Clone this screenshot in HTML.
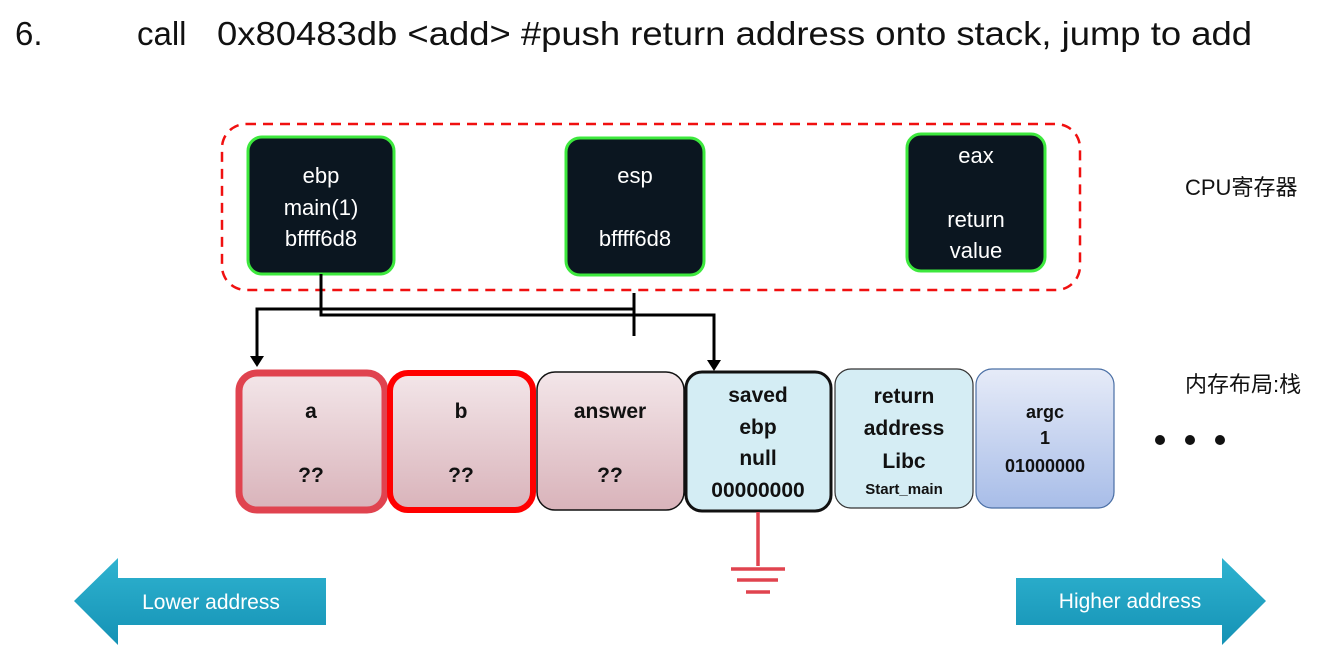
<!DOCTYPE html>
<html><head><meta charset="utf-8"><style>
body{margin:0;background:#fff;width:1334px;height:654px;overflow:hidden}
svg{display:block}
text{font-family:"Liberation Sans","Noto Sans CJK SC",sans-serif}
</style></head><body>
<svg width="1334" height="654" viewBox="0 0 1334 654" xmlns="http://www.w3.org/2000/svg">
<defs>
<linearGradient id="pk" x1="0" y1="0" x2="0" y2="1"><stop offset="0" stop-color="#f3e6e9"/><stop offset="1" stop-color="#d9b3ba"/></linearGradient>
<linearGradient id="bl" x1="0" y1="0" x2="0" y2="1"><stop offset="0" stop-color="#e6ebf8"/><stop offset="1" stop-color="#a8bde8"/></linearGradient>
<linearGradient id="ar" x1="0" y1="0" x2="0" y2="1"><stop offset="0" stop-color="#2fb3d0"/><stop offset="1" stop-color="#1592b5"/></linearGradient>
</defs>
<text x="15" y="45" font-size="33" fill="#111">6.</text>
<text x="137" y="45" font-size="33" fill="#111">call</text>
<text x="217" y="45" font-size="33" fill="#111" textLength="1035" lengthAdjust="spacingAndGlyphs">0x80483db &lt;add&gt; #push return address onto stack, jump to add</text>

<rect x="222" y="124" width="858" height="166" rx="24" fill="none" stroke="#f01010" stroke-width="2.5" stroke-dasharray="10 7"/>

<g stroke="#3de83d" stroke-width="3" fill="#0b1620">
<rect x="248" y="137" width="146" height="137" rx="14"/>
<rect x="566" y="138" width="138" height="137" rx="14"/>
<rect x="907" y="134" width="138" height="137" rx="14"/>
</g>
<g fill="#fff" font-size="22" text-anchor="middle">
<text x="321" y="183">ebp</text><text x="321" y="215">main(1)</text><text x="321" y="246">bffff6d8</text>
<text x="635" y="183">esp</text><text x="635" y="246">bffff6d8</text>
<text x="976" y="163">eax</text><text x="976" y="227">return</text><text x="976" y="258">value</text>
</g>
<text x="1185" y="195" font-size="22" fill="#111">CPU寄存器</text>
<text x="1185" y="392" font-size="22" fill="#111">内存布局:栈</text>

<g stroke="#000" stroke-width="3" fill="none">
<polyline points="321,274 321,315 714,315 714,362"/>
<polyline points="634,293 634,336"/>
<polyline points="634,309 257,309 257,358"/>
</g>
<polygon points="250,356 264,356 257,367" fill="#000"/>
<polygon points="707,360 721,360 714,371" fill="#000"/>

<rect x="239" y="373" width="146" height="137" rx="18" fill="url(#pk)" stroke="#e0434f" stroke-width="7"/>
<rect x="390" y="373" width="143" height="137" rx="18" fill="url(#pk)" stroke="#ff0000" stroke-width="6"/>
<rect x="537" y="372" width="147" height="138" rx="18" fill="url(#pk)" stroke="#111" stroke-width="1.5"/>
<rect x="686" y="372" width="145" height="139" rx="16" fill="#d4edf4" stroke="#111" stroke-width="3"/>
<rect x="835" y="369" width="138" height="139" rx="16" fill="#d5edf4" stroke="#333" stroke-width="1.2"/>
<rect x="976" y="369" width="138" height="139" rx="16" fill="url(#bl)" stroke="#4a6fa5" stroke-width="1.2"/>

<g font-size="21" font-weight="bold" fill="#111" text-anchor="middle">
<text x="311" y="418">a</text><text x="311" y="482">??</text>
<text x="461" y="418">b</text><text x="461" y="482">??</text>
<text x="610" y="418">answer</text><text x="610" y="482">??</text>
<text x="758" y="402">saved</text><text x="758" y="434">ebp</text><text x="758" y="465">null</text><text x="758" y="497">00000000</text>
<text x="904" y="403">return</text><text x="904" y="435">address</text><text x="904" y="468">Libc</text>
<text x="904" y="494" font-size="15">Start_main</text>
<text x="1045" y="418" font-size="18">argc</text><text x="1045" y="444" font-size="18">1</text><text x="1045" y="472" font-size="18">01000000</text>
</g>
<g fill="#111"><circle cx="1160" cy="440" r="5"/><circle cx="1190" cy="440" r="5"/><circle cx="1220" cy="440" r="5"/></g>

<g stroke="#e0434f" stroke-width="3.5">
<line x1="758" y1="512" x2="758" y2="566"/>
<line x1="731" y1="569" x2="785" y2="569"/>
<line x1="737" y1="580" x2="778" y2="580"/>
<line x1="746" y1="592" x2="770" y2="592"/>
</g>

<polygon points="74,601 118,558 118,578 326,578 326,625 118,625 118,645" fill="url(#ar)"/>
<text x="211" y="609" font-size="21" fill="#fff" text-anchor="middle">Lower address</text>
<polygon points="1266,601 1222,558 1222,578 1016,578 1016,625 1222,625 1222,645" fill="url(#ar)"/>
<text x="1130" y="608" font-size="21" fill="#fff" text-anchor="middle">Higher address</text>
</svg>
</body></html>
